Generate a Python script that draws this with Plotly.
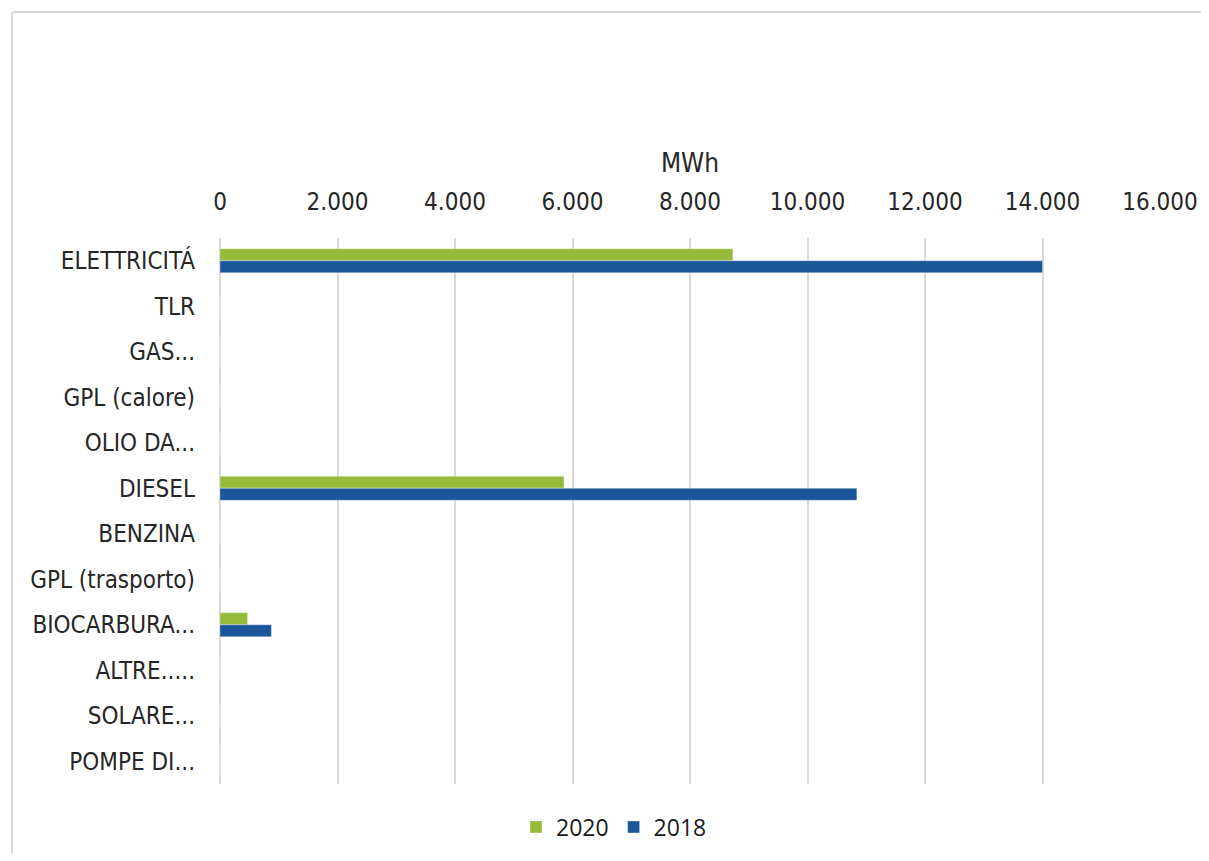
import plotly.graph_objects as go

categories = ["ELETTRICITÁ", "TLR", "GAS...", "GPL (calore)", "OLIO DA...", "DIESEL",
              "BENZINA", "GPL (trasporto)", "BIOCARBURA...", "ALTRE.....", "SOLARE...", "POMPE DI..."]
values_2020 = [8730, 0, 0, 0, 0, 5855, 0, 0, 470, 0, 0, 0]
values_2018 = [14000, 0, 0, 0, 0, 10840, 0, 0, 875, 0, 0, 0]
x_ticks = [0, 2000, 4000, 6000, 8000, 10000, 12000, 14000, 16000]
x_tick_labels = ["0", "2.000", "4.000", "6.000", "8.000", "10.000", "12.000", "14.000", "16.000"]

GREEN = "#96BB3B"
BLUE = "#1A5699"
NARROW = "DejaVu Sans Condensed, Liberation Sans Narrow, Roboto, sans-serif"

fig = go.Figure()
fig.add_trace(go.Bar(name="2020", y=categories, x=values_2020, orientation="h",
                     marker=dict(color=GREEN, line=dict(color="rgba(255,255,255,0.35)", width=1))))
fig.add_trace(go.Bar(name="2018", y=categories, x=values_2018, orientation="h",
                     marker=dict(color=BLUE, line=dict(color="rgba(255,255,255,0.35)", width=1))))

OFF = 8  # page body margin
W, H = 1209 - 2 * OFF, 861 - 2 * OFF
L = 220 - OFF
T = 238 - OFF
R = W - (1160 - OFF)
B = H - (784 - OFF)
pw, ph = W - L - R, H - T - B

def px(xp):
    return (xp - OFF - L) / pw

def py(yp):
    return (H - B - (yp - OFF)) / ph

fig.update_layout(
    width=W, height=H,
    margin=dict(l=L, r=R, t=T, b=B, pad=0, autoexpand=False),
    paper_bgcolor="white", plot_bgcolor="white",
    barmode="group", bargap=0.47, bargroupgap=0,
    showlegend=True,
    legend=dict(orientation="h", xref="container", yref="container",
                x=(614 - OFF) / W, xanchor="center", y=1 - (827 - OFF) / H, yanchor="middle",
                font=dict(family="Open Sans, sans-serif", size=23, color="#1a1a1a"),
                itemwidth=30, traceorder="normal"),
    xaxis=dict(side="top", range=[0, 16000], tickvals=x_ticks, ticktext=x_tick_labels,
               showgrid=True, gridcolor="#d9d9d9", gridwidth=1.5,
               zeroline=True, zerolinecolor="#d9d9d9", zerolinewidth=1.5,
               showline=False, ticks="", ticklabelstandoff=22, automargin=False,
               tickfont=dict(family=NARROW, size=24, color="#262626"),
               title=dict(text="MWh", font=dict(family=NARROW, size=26, color="#262626"), standoff=8)),
    yaxis=dict(autorange="reversed", showgrid=False, zeroline=False, showline=False, ticks="",
               automargin=False,
               tickfont=dict(family=NARROW, size=24, color="#262626"), ticklabelstandoff=24),
    shapes=[
        dict(type="line", xref="paper", yref="paper", x0=px(12), x1=px(1215), y0=py(12), y1=py(12),
             line=dict(color="#d9d9d9", width=2)),
        dict(type="line", xref="paper", yref="paper", x0=px(12), x1=px(12), y0=py(12), y1=py(870),
             line=dict(color="#d9d9d9", width=2)),
    ],
)

fig.write_html("out.html")
